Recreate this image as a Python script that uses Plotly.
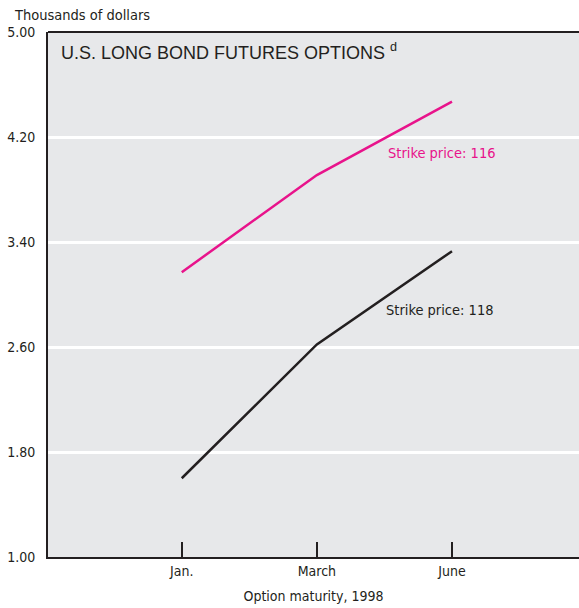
import plotly.graph_objects as go

months = ["Jan.", "March", "June"]
strike_116 = [3.17, 3.91, 4.47]
strike_118 = [1.60, 2.62, 3.33]
y_ticks = [1.00, 1.80, 2.60, 3.40, 4.20, 5.00]
y_tick_labels = ["1.00", "1.80", "2.60", "3.40", "4.20", "5.00"]

PINK = "#e8138b"
DARK = "#231f20"
NARROW = "Liberation Sans Narrow, DejaVu Sans Condensed, Arial Narrow, sans-serif"
REG = "Liberation Sans, Arial, sans-serif"

xpos = list(range(len(months)))

fig = go.Figure()
fig.add_trace(go.Scatter(x=xpos, y=strike_116, mode="lines",
                         line=dict(color=PINK, width=2.5), hoverinfo="skip"))
fig.add_trace(go.Scatter(x=xpos, y=strike_118, mode="lines",
                         line=dict(color=DARK, width=2.5), hoverinfo="skip"))

fig.update_layout(
    width=579, height=608,
    margin=dict(l=48, r=0, t=32, b=51),
    paper_bgcolor="white",
    plot_bgcolor="#e7e8ea",
    showlegend=False,
    font=dict(family=NARROW, size=14, color=DARK),
)

fig.update_xaxes(
    range=[-0.99, 2.94], automargin=False,
    tickmode="array", tickvals=xpos, ticktext=months,
    ticks="inside", ticklen=15, tickwidth=2, tickcolor=DARK,
    showgrid=False, zeroline=False,
    showline=True, linecolor=DARK, linewidth=2,
    tickfont=dict(family=NARROW, size=14, color=DARK),
    title=dict(text="Option maturity, 1998", standoff=13,
               font=dict(family=NARROW, size=14, color=DARK)),
)
fig.update_yaxes(
    range=[1.0, 5.0], automargin=False,
    tickmode="array", tickvals=y_ticks, ticktext=y_tick_labels,
    ticks="", ticklabelstandoff=8,
    showgrid=True, gridcolor="white", gridwidth=3,
    zeroline=False,
    showline=True, linecolor=DARK, linewidth=2,
    tickfont=dict(family=NARROW, size=14, color=DARK),
)

# top frame line
fig.add_shape(type="line", xref="paper", yref="paper", x0=0, x1=1, y0=1, y1=1,
              line=dict(color=DARK, width=2))

fig.add_annotation(xref="paper", yref="paper", x=-0.068, y=1.032,
                   xanchor="left", yanchor="middle", showarrow=False,
                   text="Thousands of dollars",
                   font=dict(family=NARROW, size=14.5, color=DARK))
fig.add_annotation(xref="paper", yref="paper", x=0.021, y=0.962,
                   xanchor="left", yanchor="middle", showarrow=False,
                   text="U.S. LONG BOND FUTURES OPTIONS <sup>d</sup>",
                   font=dict(family=REG, size=18, color=DARK))
fig.add_annotation(x=1.926, y=4.078, xanchor="center", yanchor="middle",
                   showarrow=False, text="Strike price: 116",
                   font=dict(family=NARROW, size=14.5, color=PINK))
fig.add_annotation(x=1.91, y=2.88, xanchor="center", yanchor="middle",
                   showarrow=False, text="Strike price: 118",
                   font=dict(family=NARROW, size=14.5, color=DARK))

fig.write_html(
    "out.html",
    config={"displayModeBar": False},
    post_script="document.body.style.margin='0';document.body.style.overflow='hidden';",
)
